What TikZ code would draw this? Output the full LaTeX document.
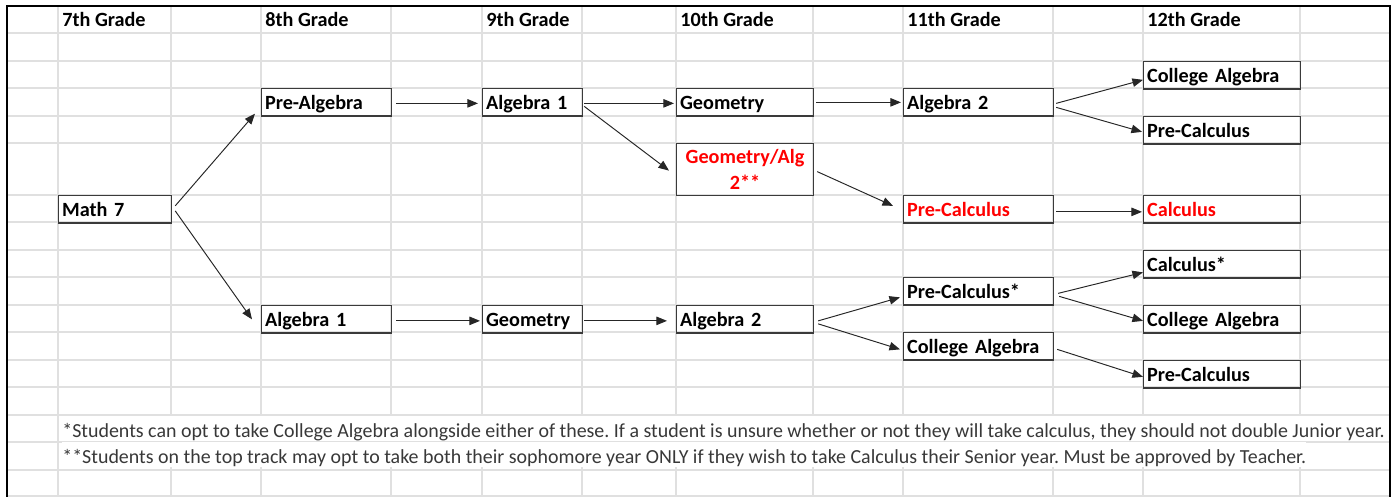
\documentclass[tikz,border=0pt]{standalone}
\usepackage{fontspec}
\setmainfont{Carlito}
\usetikzlibrary{arrows.meta}
\usetikzlibrary{positioning}
\frenchspacing

\definecolor{gridgray}{HTML}{E0E0E0}
\definecolor{boxline}{HTML}{3A3A3A}
\definecolor{notegray}{HTML}{383838}
\definecolor{trackred}{HTML}{FF0000}

\begin{document}
\begin{tikzpicture}[
  x=0.02cm, y=-0.02cm,
  every node/.style={font=\fontsize{11.5}{13.5}\selectfont\bfseries},
  grade/.style={anchor=base west, inner sep=0pt},
  course/.style={
    draw=boxline, line width=0.7pt, anchor=north west,
    inner xsep=0.07cm, inner ysep=0pt,
    minimum width=#1, text width=#1-0.14cm, align=left,
    text height=0.42cm, text depth=0.13cm
  },
  combo/.style={
    draw=boxline, line width=0.7pt, anchor=north west,
    inner xsep=0.07cm, inner ysep=0pt, minimum width=2.74cm, minimum height=1.04cm,
    text width=2.6cm, align=center, text=trackred
  },
  note/.style={
    anchor=base west, inner sep=0pt, fill=white, text=notegray,
    font=\fontsize{11.35}{13}\selectfont,
    text height=0.42cm, text depth=0.08cm
  },
  arrow/.style={-{Triangle[length=6pt,width=4.8pt]}, line width=0.55pt, draw=black!85}
]
\useasboundingbox (0,0) rectangle (1394,497);

% Sheet grid
\foreach \gx in {58,171,261,391,482,582,676,813,903,1053,1143,1300}
  \draw[gridgray, line width=0.6pt] (\gx,6) -- (\gx,497);
\foreach \gy in {33,61,88,116,143,195,222,250,277,305,332,360,387,415,442,470,496}
  \draw[gridgray, line width=0.6pt] (7,\gy) -- (1390,\gy);
\draw[line width=1.1pt] (7,500) -- (7,6) -- (1390,6) -- (1390,500);

% Grades
\foreach \gx/\gname in {62/7,265/8,486/9,680/10,907/11,1147/12}
  \node[grade] (g\gname) at (\gx,27) {\gname th Grade};

% Nodes
\node[course=2.26cm] (math7) at (58,195) {Math 7};
\node[course=2.6cm] (prealg) at (261,88) {Pre-Algebra};
\node[course=2cm] (algoneA) at (482,88) {Algebra 1};
\node[course=2.74cm] (geomA) at (676,88) {Geometry};
\node[combo] (geoalg) at (676,143) {Geometry/Alg\\[1.5pt]2**};
\node[course=3cm] (algtwoA) at (903,88) {Algebra 2};
\node[course=3cm, text=trackred] (precalcB) at (903,195) {Pre-Calculus};
\node[course=3.14cm] (colalgA) at (1143,61) {College Algebra};
\node[course=3.14cm] (precalcA) at (1143,116) {Pre-Calculus};
\node[course=3.14cm, text=trackred] (calcB) at (1143,195) {Calculus};

\node[course=2.6cm] (algoneC) at (261,305) {Algebra 1};
\node[course=2cm] (geomC) at (482,305) {Geometry};
\node[course=2.74cm] (algtwoC) at (676,305) {Algebra 2};
\node[course=3cm] (precalcC) at (903,277) {Pre-Calculus*};
\node[course=3cm] (colalgC) at (903,332) {College Algebra};
\node[course=3.14cm] (calcC) at (1143,250) {Calculus*};
\node[course=3.14cm] (colalgD) at (1143,305) {College Algebra};
\node[course=3.14cm] (precalcD) at (1143,360) {Pre-Calculus};

% Arrows
\draw[arrow] ([shift={(3,-3.5)}]math7.east) -- ([shift={(-6,-3)}]prealg.south west);
\draw[arrow] ([shift={(3,1.5)}]math7.east) -- ([shift={(-9,0)}]algoneC.west);
\draw[arrow] ([shift={(4,1)}]prealg.east) -- ([shift={(-4,1)}]algoneA.west);
\draw[arrow] ([shift={(1,1)}]algoneA.east) -- ([shift={(-2,1)}]geomA.west);
\draw[arrow] ([shift={(1,4)}]algoneA.east) -- ([shift={(-7,1)}]geoalg.west);
\draw[arrow] ([shift={(2,0)}]geomA.east) -- ([shift={(-2,0)}]algtwoA.west);
\draw[arrow] ([shift={(3,2)}]geoalg.east) -- ([shift={(-10,-3.5)}]precalcB.west);
\draw[arrow] ([shift={(2,1)}]algtwoA.east) -- ([shift={(0,4.5)}]colalgA.west);
\draw[arrow] ([shift={(2,5)}]algtwoA.east) -- ([shift={(-1,1.5)}]precalcA.west);
\draw[arrow] ([shift={(2,2.5)}]precalcB.east) -- ([shift={(-1,2.5)}]calcB.west);

\draw[arrow] ([shift={(4,1.5)}]algoneC.east) -- ([shift={(-2,1.5)}]geomC.west);
\draw[arrow] ([shift={(1,1.5)}]geomC.east) -- ([shift={(-9,1.5)}]algtwoC.west);
\draw[arrow] ([shift={(4,1.5)}]algtwoC.east) -- ([shift={(-3,6)}]precalcC.west);
\draw[arrow] ([shift={(4,4.5)}]algtwoC.east) -- ([shift={(-3,3)}]colalgC.west);
\draw[arrow] ([shift={(4,2)}]precalcC.east) -- ([shift={(0,8)}]calcC.west);
\draw[arrow] ([shift={(5,5)}]precalcC.east) -- ([shift={(0,1.5)}]colalgD.west);
\draw[arrow] ([shift={(3,3)}]colalgC.east) -- ([shift={(0,2.5)}]precalcD.west);

% Notes
\node[note] (noteA) at (62,437) {*Students can opt to take College Algebra alongside either of these. If a student is unsure whether or not they will take calculus, they should not double Junior year.};
\node[note] (noteB) at (62,463) {**Students on the top track may opt to take both their sophomore year ONLY if they wish to take Calculus their Senior year. Must be approved by Teacher.};
\end{tikzpicture}
\end{document}
